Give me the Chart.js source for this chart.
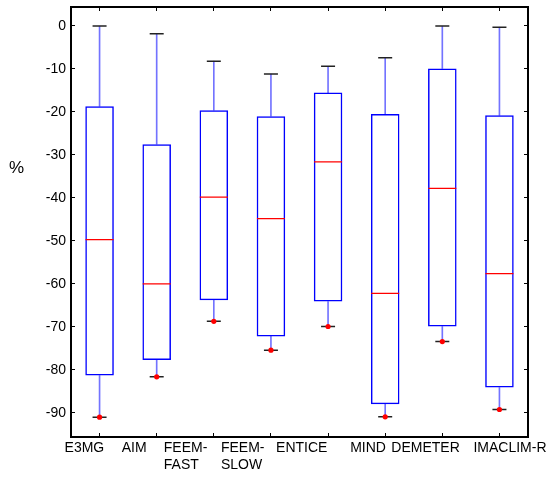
<!DOCTYPE html>
<html><head><meta charset="utf-8">
<script src="https://cdn.jsdelivr.net/npm/chart.js@4.4.1/dist/chart.umd.min.js"></script>
<style>
html,body{margin:0;padding:0;background:#fff;}
#wrap{position:relative;width:550px;height:480px;}
#ylab{position:absolute;left:9px;top:159px;font-size:17px;line-height:17px;font-family:'Liberation Sans',Arial,sans-serif;color:#000;}
</style></head><body>
<div id="wrap"><canvas id="c" width="550" height="480"></canvas><div id="ylab"></div></div>
<script>
const categories = ['E3MG', 'AIM', ['FEEM-', 'FAST'], ['FEEM-', 'SLOW'], 'ENTICE', 'MIND', 'DEMETER', 'IMACLIM-R'];
const whiskerLow  = [-91.0, -81.6, -68.7, -75.4, -69.9, -90.9, -73.4, -89.2];
const quartile1   = [-81.3, -77.7, -63.8, -72.2, -64.1, -88.0, -69.9, -84.1];
const median      = [-49.7, -60.0, -39.8, -44.8, -31.6, -62.2, -37.8, -57.6];
const quartile3   = [-18.7, -27.5, -19.6, -21.0, -15.5, -20.5, -9.9, -20.8];
const whiskerHigh = [0.0, -1.8, -8.2, -11.2, -9.4, -7.4, 0.0, -0.3];
const yTicks = [0, -10, -20, -30, -40, -50, -60, -70, -80, -90];
const yTitle = '%';

// layout/style only: horizontal shift (px) of each category label's left edge from its tick
const xLabelShift = [-35, -35, -50, -50, -52, -35, -51, -26];

document.getElementById('ylab').textContent = yTitle;

const FONT = "'Liberation Sans', Arial, sans-serif";
Chart.defaults.font.family = FONT;
Chart.defaults.font.size = 14;
Chart.defaults.color = '#000';

const pairs = (a, b) => a.map((v, i) => [v, b[i]]);
const setTicks = s => { s.ticks = yTicks.map(v => ({ value: v })); };
const border = { display: true, color: '#000', width: 2 };
const innerGrid = { display: true, drawOnChartArea: false, offset: false, tickLength: -4, color: '#000', lineWidth: 1 };

const labelShiftPlugin = {
  id: 'labelShift',
  beforeDraw(chart) {
    const s = chart.scales.x;
    const items = s.getLabelItems(chart.chartArea);
    if (items._shifted) return;
    items.forEach((it, i) => {
      const t = it.options.translation;
      it.options.translation = [t[0] + (xLabelShift[i] || 0), t[1]];
    });
    items._shifted = true;
  }
};

new Chart(document.getElementById('c'), {
  type: 'bar',
  data: {
    labels: categories,
    datasets: [
      { type: 'line', label: 'min', data: whiskerLow, showLine: false, pointStyle: 'circle', pointRadius: 2.6,
        pointBackgroundColor: '#ff0000', pointBorderColor: '#ff0000', pointBorderWidth: 0, order: 1 },
      { type: 'line', label: 'low cap', data: whiskerLow, showLine: false, pointStyle: 'line', pointRadius: 7,
        pointBorderColor: '#222', pointBorderWidth: 1.5, order: 2 },
      { type: 'line', label: 'high cap', data: whiskerHigh, showLine: false, pointStyle: 'line', pointRadius: 7,
        pointBorderColor: '#222', pointBorderWidth: 1.5, order: 2 },
      { type: 'line', label: 'median', data: median, showLine: false, pointStyle: 'line', pointRadius: 14,
        pointBorderColor: '#ff0000', pointBorderWidth: 1.2, order: 3 },
      { type: 'bar', label: 'upper whisker', data: pairs(quartile3, whiskerHigh), backgroundColor: 'rgba(0,0,255,0.55)',
        borderWidth: 0, barThickness: 1, grouped: false, order: 4 },
      { type: 'bar', label: 'lower whisker', data: pairs(whiskerLow, quartile1), backgroundColor: 'rgba(0,0,255,0.55)',
        borderWidth: 0, barThickness: 1, grouped: false, order: 4 },
      { type: 'bar', label: 'box', data: pairs(quartile1, quartile3), backgroundColor: 'rgba(255,255,255,0)',
        borderColor: '#0000ff', borderWidth: 1.5, borderSkipped: false, barPercentage: 0.5, categoryPercentage: 1,
        grouped: false, order: 5 }
    ]
  },
  plugins: [labelShiftPlugin],
  options: {
    responsive: false,
    animation: false,
    layout: { autoPadding: false, padding: { left: 37, right: 22, top: 7, bottom: 0 } },
    plugins: { legend: { display: false }, tooltip: { enabled: false } },
    scales: {
      x: {
        type: 'category', position: 'bottom', offset: true,
        grid: innerGrid, border: border,
        ticks: { align: 'start', labelOffset: 0, padding: 7, autoSkip: false, maxRotation: 0, minRotation: 0,
                 color: '#000', font: { size: 14 } },
        afterFit: s => { s.paddingLeft = 0; s.paddingRight = 0; s.height = 43; }
      },
      x2: {
        type: 'category', position: 'top', offset: true, labels: categories,
        grid: innerGrid, border: border, ticks: { display: false },
        afterFit: s => { s.paddingLeft = 0; s.paddingRight = 0; s.height = 0; }
      },
      y: {
        type: 'linear', position: 'left', min: -95.6, max: 4.4,
        afterBuildTicks: setTicks,
        grid: innerGrid, border: border,
        ticks: { padding: 9, color: '#000', font: { size: 14 } },
        afterFit: s => { s.paddingTop = 0; s.paddingBottom = 0; s.width = 34; }
      },
      y2: {
        type: 'linear', position: 'right', min: -95.6, max: 4.4,
        afterBuildTicks: setTicks,
        grid: innerGrid, border: border, ticks: { display: false },
        afterFit: s => { s.paddingTop = 0; s.paddingBottom = 0; s.width = 0; }
      }
    }
  }
});
</script>
</body></html>
